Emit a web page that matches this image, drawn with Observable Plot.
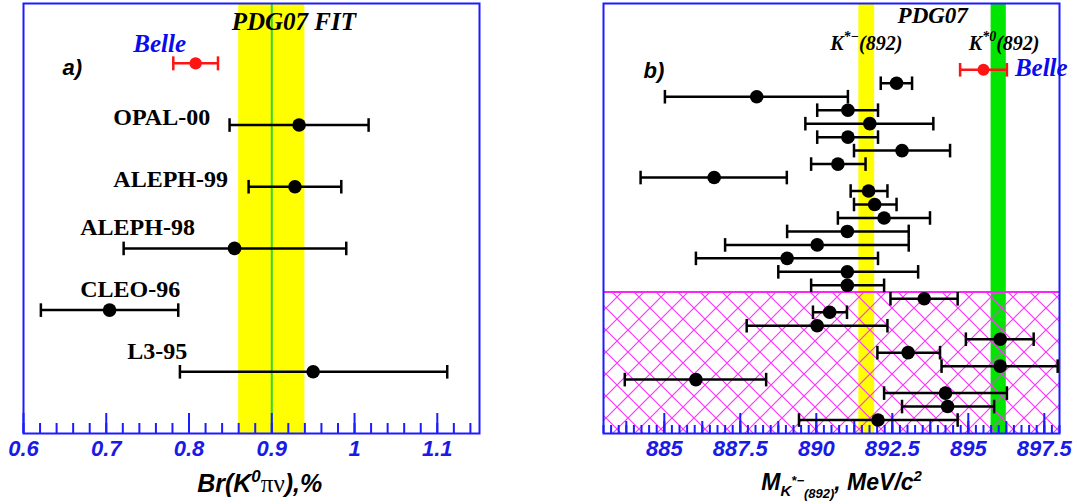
<!DOCTYPE html>
<html><head><meta charset="utf-8">
<script src="https://cdn.jsdelivr.net/npm/d3@7"></script>
<script src="https://cdn.jsdelivr.net/npm/@observablehq/plot@0.6"></script>
<style>
html,body{margin:0;padding:0;background:#fff;}
#wrap{position:relative;width:1077px;height:504px;overflow:hidden;}
#left{position:absolute;left:0;top:0;}
#right{position:absolute;left:540px;top:0;}
svg{overflow:visible}
</style></head><body>
<div id="wrap"><div id="left"></div><div id="right"></div></div>
<script>
// ---------- Panel a): Br(K0 pi nu), % ----------
const brExperiments = ["Belle", "OPAL-00", "ALEPH-99", "ALEPH-98", "CLEO-96", "L3-95"];
const brValue = [0.808, 0.933, 0.928, 0.855, 0.704, 0.950];
const brLow   = [0.781, 0.849, 0.872, 0.721, 0.621, 0.789];
const brHigh  = [0.835, 1.017, 0.984, 0.990, 0.787, 1.112];
const brPdgFit = 0.90, brPdgFitErr = 0.04;
const brTicks = [0.6, 0.7, 0.8, 0.9, 1, 1.1];
const brMinorStep = 0.02;
const brDomain = [0.6, 1.151];
const brRowDomain = [-0.97, 6];
// label text start (in %), per experiment (annotation placement)
const brLabelStart = [null, 0.7085, 0.7085, 0.6686, 0.6686, 0.7254];
const brLabelAbove = [null, false, false, true, true, true];

// ---------- Panel b): M(K*-(892)), MeV/c^2 ----------
const massBelle = {value: 895.50, low: 894.73, high: 896.27};
const massValue = [892.64, 888.04, 891.04, 891.76, 891.04, 892.82, 890.71, 886.64, 891.72, 891.92,
                   892.23, 891.02, 890.03, 889.04, 891.02, 891.02, 893.55, 890.44, 890.03, 896.05,
                   893.02, 896.05, 886.04, 894.25, 894.32, 892.03];
const massLow   = [892.12, 885.02, 890.03, 889.64, 890.03, 891.24, 889.83, 884.22, 891.13, 891.24,
                   890.71, 889.04, 887.00, 886.04, 888.75, 889.83, 892.44, 889.89, 887.71, 894.92,
                   892.01, 894.12, 883.70, 892.23, 892.82, 889.43];
const massHigh  = [893.15, 891.04, 892.03, 893.85, 892.03, 894.40, 891.62, 889.03, 892.34, 892.64,
                   893.74, 893.04, 893.04, 892.03, 893.35, 892.23, 894.65, 891.01, 892.34, 897.15,
                   894.07, 897.94, 888.35, 896.27, 895.85, 894.65];
const pdgKstarMinus = 891.66, pdgKstarMinusErr = 0.26;
const pdgKstar0 = 896.00, pdgKstar0Err = 0.25;
const massTicks = [885, 887.5, 890, 892.5, 895, 897.5];
const massMinorStep = 0.25, massMediumStep = 1.25;
const massDomain = [883, 898];
const massRowDomain = [-4.92, 27];
const hatchFromRow = 16.5;

// ---------- styling ----------
const BLUE = "#1c1cff", TICKBLUE = "#1a1ae8", RED = "#ff1414", YELLOW = "#ffff00";
const vbar = {draw(ctx, size) { const r = Math.sqrt(size / Math.PI); ctx.moveTo(0, -r); ctx.lineTo(0, r); }};
const tickFont = {fontSize: 22, fontWeight: "bold", fontStyle: "italic", fontFamily: "Liberation Sans, Arial, sans-serif"};
const serifBold = {fontFamily: "Liberation Serif, Times New Roman, serif", fontWeight: "bold"};

function errorMarks(rows, color, r, capR) {
  return [
    Plot.ruleY(rows, {y: "row", x1: "low", x2: "high", stroke: color, strokeWidth: 2.5}),
    Plot.dot(rows, {x: "low", y: "row", symbol: vbar, r: capR, stroke: color, strokeWidth: 2.5, fill: "none"}),
    Plot.dot(rows, {x: "high", y: "row", symbol: vbar, r: capR, stroke: color, strokeWidth: 2.5, fill: "none"}),
    Plot.dot(rows, {x: "value", y: "row", r, fill: color, stroke: "none"})
  ];
}

function richText(svg, x, y, base, parts) {
  const t = d3.select(svg).append("text").attr("x", x).attr("y", y).attr("text-anchor", "middle")
    .attr("font-family", base.family).attr("font-size", base.size)
    .attr("font-weight", base.weight).attr("font-style", base.style).attr("fill", base.fill || "black");
  for (const p of parts) {
    const s = t.append("tspan").text(p.text);
    for (const k of ["dy", "font-size", "font-family", "font-weight", "font-style"]) if (p[k] != null) s.attr(k, p[k]);
  }
  return t;
}

// ---------- Panel a ----------
const brRows = brExperiments.map((name, i) => ({name, row: i, value: brValue[i], low: brLow[i], high: brHigh[i]}));
const brBelle = brRows.slice(0, 1), brOthers = brRows.slice(1);
const brMinor = d3.range(brDomain[0], brDomain[1], brMinorStep);

const left = Plot.plot({
  width: 540, height: 504, marginLeft: 23, marginRight: 61, marginTop: 3, marginBottom: 71,
  style: {background: "transparent", overflow: "visible"},
  x: {domain: brDomain},
  y: {domain: brRowDomain, reverse: true, axis: null},
  marks: [
    Plot.rect([{v: brPdgFit, e: brPdgFitErr}], {x1: d => d.v - d.e, x2: d => d.v + d.e, y1: brRowDomain[0], y2: brRowDomain[1], fill: YELLOW}),
    Plot.ruleX([brPdgFit], {x: d => d, stroke: "#2fd62f", strokeWidth: 2}),
    Plot.ruleX(brMinor, {x: d => d, stroke: BLUE, strokeWidth: 2, insetTop: 420}),
    Plot.ruleX(brTicks, {x: d => d, stroke: BLUE, strokeWidth: 2, insetTop: 410}),
    Plot.axisX(brTicks, {anchor: "bottom", tickSize: 0, tickPadding: 7, tickFormat: d => String(d), color: TICKBLUE, label: null, ...tickFont}),
    Plot.frame({stroke: BLUE, strokeWidth: 2}),
    ...errorMarks(brOthers, "black", 6.8, 6.8),
    ...errorMarks(brBelle, RED, 6.2, 7),
    Plot.text(brOthers, {x: (d, i) => brLabelStart[i + 1], y: "row", dy: 0, text: d => d.name,
      textAnchor: "start", lineAnchor: "bottom", fontSize: 24, ...serifBold, fill: "black",
      filter: (d) => !brLabelAbove[d.row]}),
    Plot.text(brOthers, {x: (d, i) => brLabelStart[i + 1], y: "row", dy: -13, text: d => d.name,
      textAnchor: "start", lineAnchor: "bottom", fontSize: 24, ...serifBold, fill: "black",
      filter: (d) => brLabelAbove[d.row]}),
    Plot.text(["Belle"], {x: brValue[0], y: 0, dx: -36, dy: -11, textAnchor: "middle", lineAnchor: "bottom",
      fontSize: 25, ...serifBold, fontStyle: "italic", fill: "#0a0aee"}),
    Plot.text(["PDG07 FIT"], {x: brPdgFit - brPdgFitErr, y: 0, dx: -7, dy: -33, textAnchor: "start", lineAnchor: "bottom",
      fontSize: 25, ...serifBold, fontStyle: "italic", fill: "black"}),
    Plot.text(["a)"], {x: brDomain[0], y: 0, dx: 39, dy: 12, textAnchor: "start", lineAnchor: "bottom",
      fontSize: 22, fontWeight: "bold", fontStyle: "italic", fontFamily: "Liberation Sans, Arial, sans-serif", fill: "black"})
  ]
});
document.getElementById("left").appendChild(left);
{
  const sx = left.scale("x");
  richText(left, sx.apply(0.886), 492,
    {family: "Liberation Sans, Arial, sans-serif", size: 25, weight: "bold", style: "italic"},
    [{text: "Br(K"}, {text: "0", dy: -10, "font-size": 17},
     {text: "πν", dy: 10, "font-family": "Liberation Serif, Times New Roman, serif", "font-weight": "normal", "font-style": "normal"},
     {text: "),%"}]);
}

// ---------- Panel b ----------
const massRows = massValue.map((v, i) => ({row: i + 1, value: v, low: massLow[i], high: massHigh[i]}));
const massBelleRows = [{row: 0, ...massBelle}];
const massMinor = d3.range(massDomain[0], massDomain[1] + 1e-9, massMinorStep);
const massMedium = d3.range(massTicks[0] - massMediumStep, massDomain[1], massMediumStep);

const right = Plot.plot({
  width: 537, height: 504, marginLeft: 63, marginRight: 18, marginTop: 3, marginBottom: 71,
  style: {background: "transparent", overflow: "visible"},
  x: {domain: massDomain},
  y: {domain: massRowDomain, reverse: true, axis: null},
  marks: [
    Plot.rect([{v: pdgKstarMinus, e: pdgKstarMinusErr, c: YELLOW}, {v: pdgKstar0, e: pdgKstar0Err, c: "#00e600"}],
      {x1: d => d.v - d.e, x2: d => d.v + d.e, y1: massRowDomain[0], y2: massRowDomain[1], fill: d => d.c}),
    Plot.rect([{}], {x1: massDomain[0], x2: massDomain[1], y1: hatchFromRow, y2: massRowDomain[1], fill: "url(#xhatch)"}),
    Plot.ruleY([hatchFromRow], {y: d => d, stroke: "#ff22ff", strokeWidth: 2}),
    Plot.ruleX(massMinor, {x: d => d, stroke: BLUE, strokeWidth: 2, insetTop: 422}),
    Plot.ruleX(massMedium, {x: d => d, stroke: BLUE, strokeWidth: 2, insetTop: 418}),
    Plot.ruleX(massTicks, {x: d => d, stroke: BLUE, strokeWidth: 2, insetTop: 410}),
    Plot.axisX(massTicks, {anchor: "bottom", tickSize: 0, tickPadding: 7, tickFormat: d => String(d), color: TICKBLUE, label: null, ...tickFont}),
    Plot.frame({stroke: BLUE, strokeWidth: 2}),
    ...errorMarks(massRows, "black", 6.8, 6.8),
    ...errorMarks(massBelleRows, RED, 6, 6.8),
    Plot.text(["Belle"], {x: massBelle.high, y: 0, dx: 8, dy: 6, textAnchor: "start", lineAnchor: "bottom",
      fontSize: 25, ...serifBold, fontStyle: "italic", fill: "#0a0aee"}),
    Plot.text(["PDG07"], {x: (pdgKstarMinus + pdgKstar0) / 2, y: 0, dy: -47, textAnchor: "middle", lineAnchor: "bottom",
      fontSize: 23, ...serifBold, fontStyle: "italic", fill: "black"}),
    Plot.text(["b)"], {x: massDomain[0], y: 0, dx: 40, dy: 8, textAnchor: "start", lineAnchor: "bottom",
      fontSize: 22, fontWeight: "bold", fontStyle: "italic", fontFamily: "Liberation Sans, Arial, sans-serif", fill: "black"})
  ]
});
document.getElementById("right").appendChild(right);
{
  const svg = d3.select(right);
  const defs = svg.insert("defs", ":first-child");
  const P = 22;
  defs.append("pattern").attr("id", "xhatch").attr("patternUnits", "userSpaceOnUse")
    .attr("width", P).attr("height", P)
    .append("path").attr("d", `M-1,-1L${P + 1},${P + 1}M${P + 1},-1L-1,${P + 1}`)
    .attr("stroke", "#ff33ff").attr("stroke-width", 1.2).attr("fill", "none");
  const sx = right.scale("x"), sy = right.scale("y");
  const kBase = {family: "Liberation Serif, Times New Roman, serif", size: 20, weight: "bold", style: "italic"};
  richText(right, sx.apply(pdgKstarMinus), sy.apply(0) - 19, kBase,
    [{text: "K"}, {text: "*−", dy: -9, "font-size": 14}, {text: "(892)", dy: 9}]);
  richText(right, sx.apply(pdgKstar0) + 6, sy.apply(0) - 19, kBase,
    [{text: "K"}, {text: "*0", dy: -9, "font-size": 14}, {text: "(892)", dy: 9}]);
  richText(right, sx.apply(890.85), 490,
    {family: "Liberation Sans, Arial, sans-serif", size: 23, weight: "bold", style: "italic"},
    [{text: "M"}, {text: "K", dy: 6, "font-size": 15}, {text: "*−", dy: -11, "font-size": 13},
     {text: "(892)", dy: 13, "font-size": 13}, {text: ", MeV/c", dy: -8}, {text: "2", dy: -9, "font-size": 15}]);
}
</script>
</body></html>
